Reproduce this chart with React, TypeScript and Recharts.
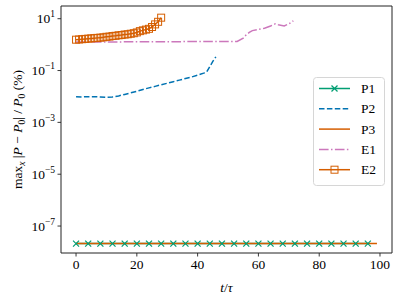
import React from "react";
import { LineChart, Line, XAxis, YAxis, Legend, ReferenceArea } from "recharts";

// time axis values (t / tau) and relative errors (%) per series
const P1_T = [0, 4, 8, 12, 16, 20, 24, 28, 32, 36, 40, 44, 48, 52, 56, 60, 64, 68, 72, 76, 80, 84, 88, 92, 96];
const P1_Y = [2.1e-8, 2.1e-8, 2.1e-8, 2.1e-8, 2.1e-8, 2.1e-8, 2.1e-8, 2.1e-8, 2.1e-8, 2.1e-8, 2.1e-8, 2.1e-8, 2.1e-8, 2.1e-8, 2.1e-8, 2.1e-8, 2.1e-8, 2.1e-8, 2.1e-8, 2.1e-8, 2.1e-8, 2.1e-8, 2.1e-8, 2.1e-8, 2.1e-8];

const P2_T = [0, 2, 4, 6, 8, 10, 12, 14, 16, 18, 20, 22, 24, 26, 28, 30, 32, 34, 36, 38, 40, 42, 43, 44, 45, 46];
const P2_Y = [0.0098, 0.0096, 0.0098, 0.0098, 0.0096, 0.0093, 0.0096, 0.0105, 0.012, 0.0138, 0.0158, 0.0186, 0.0214, 0.0245, 0.0282, 0.0324, 0.0372, 0.0427, 0.049, 0.0562, 0.0661, 0.0794, 0.0891, 0.141, 0.224, 0.339];

const P3_T = [0, 33, 66, 99];
const P3_Y = [2.1e-8, 2.1e-8, 2.1e-8, 2.1e-8];

const E1_T = [0, 10, 20, 30, 40, 50, 53, 55, 56, 57, 58, 60, 62, 64, 65.5, 66.5, 68.5, 70, 71.5];
const E1_Y = [1.26, 1.26, 1.29, 1.29, 1.32, 1.32, 1.32, 1.78, 2.4, 2.95, 3.47, 3.89, 4.27, 5.25, 6.31, 5.89, 5.25, 6.31, 8.32];

const E2_T = [0, 1, 2, 3, 4, 5, 6, 7, 8, 9, 10, 11, 12, 13, 14, 15, 16, 17, 18, 19, 20, 21, 22, 23, 24, 25, 26, 27, 28];
const E2_Y = [1.55, 1.58, 1.62, 1.66, 1.7, 1.74, 1.78, 1.82, 1.86, 1.91, 2.0, 2.04, 2.14, 2.19, 2.29, 2.34, 2.45, 2.51, 2.63, 2.75, 2.95, 3.31, 3.55, 3.8, 4.07, 4.79, 6.03, 7.59, 10.96];

const X_TICKS = [0, 20, 40, 60, 80, 100];
const Y_TICKS = [1e-7, 1e-5, 1e-3, 1e-1, 10];
const X_DOMAIN = [-4.95, 103.95];
const Y_DOMAIN = [Math.pow(10, -8.04), Math.pow(10, 1.49)];

const C_GREEN = "#029e73";
const C_BLUE = "#0173b2";
const C_ORANGE = "#d55e00";
const C_PINK = "#cc78bc";
const C_AXIS = "#222";
const FONT = "Liberation Serif, Times New Roman, DejaVu Serif, serif";
const TXT = { fontFamily: FONT, fontSize: 13.5, fill: "#000" };

const toPts = (t: number[], y: number[]) => t.map((v, i) => ({ t: v, y: y[i] }));

const XMark = ({ cx, cy, s = 3 }: { cx: number; cy: number; s?: number }) => (
  <g stroke={C_GREEN} strokeWidth={1.2}>
    <line x1={cx - s} y1={cy - s} x2={cx + s} y2={cy + s} />
    <line x1={cx - s} y1={cy + s} x2={cx + s} y2={cy - s} />
  </g>
);

const SquareMark = ({ cx, cy, s = 3.5 }: { cx: number; cy: number; s?: number }) => (
  <rect x={cx - s} y={cy - s} width={2 * s} height={2 * s} fill="none" stroke={C_ORANGE} strokeWidth={1} />
);

// tick mark + label drawn together (mark hangs off the axis line)
const XTick = ({ x, y, payload }: any) => (
  <g>
    <line x1={x} x2={x} y1={y - 6} y2={y - 2.5} stroke={C_AXIS} strokeWidth={0.9} />
    <text x={x} y={y} dy="0.71em" textAnchor="middle" style={TXT}>
      {payload.value}
    </text>
  </g>
);

const YTick = ({ x, y, payload }: any) => {
  const e = Math.round(Math.log10(payload.value));
  return (
    <g>
      <line x1={x + 2.5} x2={x + 6} y1={y} y2={y} stroke={C_AXIS} strokeWidth={0.9} />
      <text x={x} y={y + 4.5} textAnchor="end" style={TXT}>
        <tspan>10</tspan>
        <tspan dy={-6} style={{ fontSize: 9.5 }}>{e < 0 ? "\u2212" + Math.abs(e) : String(e)}</tspan>
      </text>
    </g>
  );
};

const SUB = { fontSize: 9.5 };
const IT = { fontStyle: "italic" as const };

const YLabel = () => (
  <text transform="translate(22,129.5) rotate(-90)" textAnchor="middle" style={TXT}>
    <tspan>max</tspan>
    <tspan dy={3} style={{ ...SUB, ...IT }}>x</tspan>
    <tspan dy={-3}> |</tspan>
    <tspan style={IT}>P</tspan>
    <tspan> {"\u2212"} </tspan>
    <tspan style={IT}>P</tspan>
    <tspan dy={3} style={SUB}>0</tspan>
    <tspan dy={-3}>| / </tspan>
    <tspan style={IT}>P</tspan>
    <tspan dy={3} style={SUB}>0</tspan>
    <tspan dy={-3}> (%)</tspan>
  </text>
);

const XLabel = () => (
  <text x={226.5} y={292} textAnchor="middle" style={TXT}>
    <tspan style={IT}>t</tspan>
    <tspan>/</tspan>
    <tspan style={IT}>τ</tspan>
  </text>
);

const LEGEND_ROWS = [
  { name: "P1", color: C_GREEN, dash: undefined, mark: "x" },
  { name: "P2", color: C_BLUE, dash: "5.5 2.4", mark: "" },
  { name: "P3", color: C_ORANGE, dash: undefined, mark: "" },
  { name: "E1", color: C_PINK, dash: "9.6 2.4 1.5 2.4", mark: "" },
  { name: "E2", color: C_ORANGE, dash: undefined, mark: "sq" },
];

const LegendBox = () => (
  <svg width={72} height={109} style={{ display: "block" }}>
    <rect x={0.5} y={0.5} width={71} height={108} rx={3} fill="#fff" fillOpacity={0.8} stroke="#d6d6d6" />
    {LEGEND_ROWS.map((r, i) => {
      const cy = 11.5 + i * 20.3;
      return (
        <g key={r.name}>
          <line x1={6} x2={37} y1={cy} y2={cy} stroke={r.color} strokeWidth={1.5} strokeDasharray={r.dash} />
          {r.mark === "x" && <XMark cx={21.5} cy={cy} />}
          {r.mark === "sq" && <SquareMark cx={21.5} cy={cy} />}
          <text x={48} y={cy + 4.5} style={TXT}>
            {r.name}
          </text>
        </g>
      );
    })}
  </svg>
);

export default function App() {
  return (
    <div style={{ position: "absolute", left: 0, top: 0 }}>
      <LineChart width={399} height={300} margin={{ top: 6, right: 7, bottom: 7, left: 11 }}>
        <XAxis
          dataKey="t"
          type="number"
          domain={X_DOMAIN}
          ticks={X_TICKS}
          allowDataOverflow
          height={40}
          tickSize={4}
          tick={<XTick />}
          axisLine={false}
          tickLine={false}
          label={<XLabel />}
        />
        <YAxis
          dataKey="y"
          scale="log"
          type="number"
          domain={Y_DOMAIN}
          ticks={Y_TICKS}
          allowDataOverflow
          width={50}
          tickSize={4}
          tick={<YTick />}
          axisLine={false}
          tickLine={false}
          label={<YLabel />}
        />
        <ReferenceArea
          x1={X_DOMAIN[0]}
          x2={X_DOMAIN[1]}
          y1={Y_DOMAIN[0]}
          y2={Y_DOMAIN[1]}
          fill="none"
          stroke={C_AXIS}
          strokeWidth={1}
          ifOverflow="visible"
        />
        <Line
          data={toPts(P1_T, P1_Y)}
          dataKey="y"
          name="P1"
          stroke={C_GREEN}
          strokeWidth={1.5}
          isAnimationActive={false}
          dot={(p: any) => <XMark key={"p1" + p.index} cx={p.cx} cy={p.cy} />}
        />
        <Line
          data={toPts(P2_T, P2_Y)}
          dataKey="y"
          name="P2"
          stroke={C_BLUE}
          strokeWidth={1.5}
          strokeDasharray="5.5 2.4"
          dot={false}
          isAnimationActive={false}
        />
        <Line
          data={toPts(P3_T, P3_Y)}
          dataKey="y"
          name="P3"
          stroke={C_ORANGE}
          strokeWidth={1.5}
          dot={false}
          isAnimationActive={false}
        />
        <Line
          data={toPts(E1_T, E1_Y)}
          dataKey="y"
          name="E1"
          stroke={C_PINK}
          strokeWidth={1.5}
          strokeDasharray="9.6 2.4 1.5 2.4"
          dot={false}
          isAnimationActive={false}
        />
        <Line
          data={toPts(E2_T, E2_Y)}
          dataKey="y"
          name="E2"
          stroke={C_ORANGE}
          strokeWidth={1.5}
          isAnimationActive={false}
          dot={(p: any) => <SquareMark key={"e2" + p.index} cx={p.cx} cy={p.cy} />}
        />
        <Legend
          layout="vertical"
          align="center"
          verticalAlign="middle"
          content={<LegendBox />}
          wrapperStyle={{ left: 313, top: 77, width: 72, height: 109 }}
        />
      </LineChart>
    </div>
  );
}
